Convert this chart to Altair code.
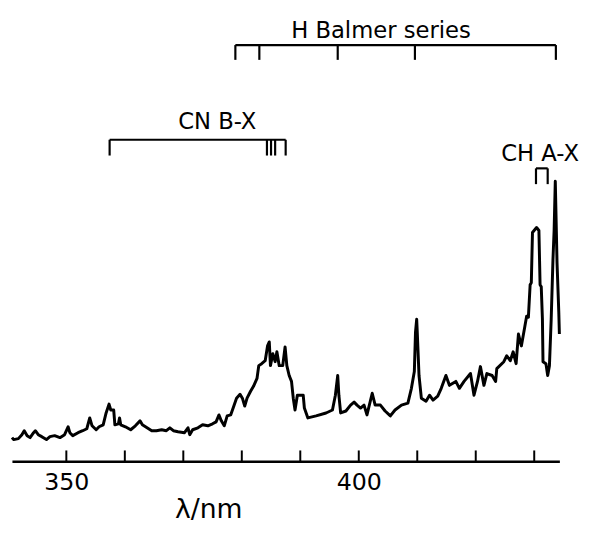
import altair as alt
import pandas as pd

# Emission spectrum (wavelength in nm, intensity in arbitrary units)
wavelength = [
    340.7, 341.0, 341.8, 342.4, 342.8, 343.3, 343.8, 344.4, 344.7, 345.2,
    345.8, 346.6, 347.2, 348.0, 348.9, 349.7, 350.3, 350.6, 351.1, 352.0,
    352.8, 353.5, 354.0, 354.4, 355.1, 355.6, 356.3, 356.8, 357.3, 357.6,
    358.1, 358.3, 358.9, 359.1, 359.3, 360.1, 361.0, 361.8, 362.6, 363.0,
    363.8, 364.6, 365.4, 366.3, 367.1, 367.7, 368.3, 369.1, 370.2, 370.8,
    371.1, 371.6, 372.5, 373.3, 374.2, 375.0, 375.6, 376.1, 376.5, 377.0,
    377.5, 378.1, 378.7, 379.1, 379.7, 380.1, 380.5, 380.9, 381.5, 382.0,
    382.6, 382.9, 383.4, 384.0, 384.4, 384.7, 384.9, 385.3, 385.7, 386.0,
    386.4, 387.0, 387.4, 387.7, 388.1, 388.5, 388.8, 389.1, 389.5, 390.5,
    390.7, 391.3, 392.7, 394.4, 395.5, 396.0, 396.4, 396.6, 396.9, 397.8,
    398.6, 399.2, 399.7, 400.3, 400.9, 401.4, 402.3, 402.8, 403.7, 404.5,
    405.4, 406.2, 407.3, 408.4, 409.0, 409.5, 409.7, 409.9, 410.0, 410.3,
    410.7, 411.5, 412.1, 412.7, 413.5, 414.1, 414.9, 415.5, 416.6, 417.2,
    418.0, 419.1, 419.7, 420.3, 420.8, 421.4, 421.9, 422.8, 423.4, 423.6,
    424.8, 425.3, 425.9, 426.4, 426.9, 427.3, 427.8, 428.4, 428.7, 429.0,
    429.3, 429.5, 429.7, 430.4, 430.8, 431.0, 431.2, 431.4, 431.5, 432.0,
    432.3, 432.6, 432.9, 433.2, 433.4, 433.6, 433.9, 434.2, 434.3,
]
intensity = [
    24, 22, 23, 27, 31, 26, 24, 29, 31, 27,
    25, 22, 25, 26, 24, 27, 35, 29, 26, 29,
    31, 33, 44, 36, 32, 35, 37, 49, 58, 52,
    52, 37, 38, 44, 37, 35, 32, 36, 41, 37,
    34, 31, 31, 32, 31, 34, 31, 30, 29, 34,
    27, 32, 34, 37, 36, 38, 40, 47, 41, 36,
    46, 47, 57, 64, 68, 64, 56, 64, 71, 76,
    84, 97, 99, 102, 117, 121, 97, 109, 101, 111,
    97, 97, 116, 97, 87, 81, 64, 52, 67, 67,
    54, 44, 46, 49, 52, 67, 87, 67, 49, 51,
    57, 60, 57, 54, 57, 47, 69, 57, 57, 51,
    46, 52, 57, 59, 74, 91, 131, 144, 131, 87,
    64, 61, 67, 62, 66, 74, 87, 77, 81, 74,
    81, 89, 67, 81, 96, 77, 89, 87, 81, 94,
    101, 107, 102, 111, 99, 129, 117, 137, 147, 146,
    179, 181, 232, 237, 234, 179, 177, 144, 101, 99,
    87, 97, 144, 204, 234, 284, 201, 151, 129,
]

tick_nm = [350, 360, 370, 380, 390, 400, 410, 420, 430]
label_nm = [350, 400]

# Line-position markers (nm) and the heights (same units) of their brackets
balmer_nm = [378.9, 383.0, 396.4, 409.6, 433.7]
cn_nm = [357.4, 384.3, 385.0, 385.7, 387.5]
ch_nm = [430.3, 432.3]
bracket_names = ["H Balmer series", "CN B-X", "CH A-X"]
bracket_top = [422, 326, 297]
bracket_bottom = [407, 310, 281]
label_nm_pos = [403.8, 375.8, 431.0]
label_level = [429, 337, 304]

FONT = "DejaVu Sans"

spec = pd.DataFrame({"lam": wavelength, "I": intensity, "idx": range(len(wavelength))})

marker_sets = [balmer_nm, cn_nm, ch_nm]
hrows, vrows = [], []
for k, nms in enumerate(marker_sets):
    hrows.append({"lam": min(nms), "lam2": max(nms), "I": bracket_top[k]})
    for v in nms:
        vrows.append({"lam": v, "I": bracket_bottom[k], "I2": bracket_top[k]})
hdf = pd.DataFrame(hrows)
vdf = pd.DataFrame(vrows)
ticks_df = pd.DataFrame({"lam": tick_nm, "I": [0] * len(tick_nm), "I2": [11] * len(tick_nm)})
text_df = pd.DataFrame({"lam": label_nm_pos, "I": label_level, "txt": bracket_names})

xs = alt.Scale(domain=[340.7, 434.3], nice=False, zero=False)
ys = alt.Scale(domain=[0, 454], nice=False, zero=False)
xaxis = alt.Axis(
    values=label_nm, ticks=False, tickSize=0, grid=False, labelPadding=10,
    labelFont=FONT, labelFontSize=24, labelColor="black",
    domainColor="black", domainWidth=2.5,
    title="λ/nm", titleFont=FONT, titleFontSize=27, titleFontWeight="normal",
    titleColor="black", titleX=199, titleY=57, titleAlign="center",
    titleBaseline="alphabetic", titleAnchor="start",
)

def X(field="lam"):
    return alt.X(f"{field}:Q", scale=xs, axis=xaxis)

def Y(field="I"):
    return alt.Y(f"{field}:Q", scale=ys, axis=None)

line = alt.Chart(spec).mark_line(color="black", strokeWidth=3, strokeJoin="round").encode(
    x=X(), y=Y(), order="idx:Q"
)
ticks = alt.Chart(ticks_df).mark_rule(color="black", strokeWidth=2).encode(
    x=X(), y=Y(), y2="I2:Q"
)
hbr = alt.Chart(hdf).mark_rule(color="black", strokeWidth=2.2).encode(
    x=X(), x2="lam2:Q", y=Y()
)
vbr = alt.Chart(vdf).mark_rule(color="black", strokeWidth=2.2).encode(
    x=X(), y=Y(), y2="I2:Q"
)
texts = alt.Chart(text_df).mark_text(
    font=FONT, fontSize=23, color="black", align="center", baseline="alphabetic"
).encode(x=X(), y=Y(), text="txt:N")

chart = alt.layer(line, ticks, hbr, vbr, texts).properties(
    width=555, height=454,
    autosize=alt.AutoSizeParams(type="none"),
    padding={"left": 4, "top": 2, "right": 28, "bottom": 61},
    background="white",
).configure_view(stroke=None)

chart.save("out.html", embed_options={"renderer": "svg", "actions": False})
